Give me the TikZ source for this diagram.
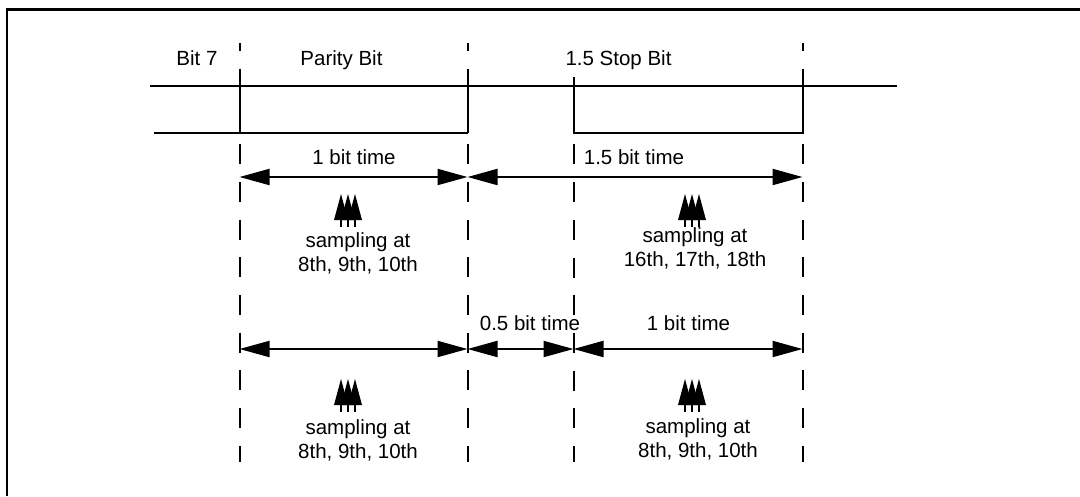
\documentclass[tikz,border=0pt]{standalone}
\usepackage{fontspec}
\setmainfont{Liberation Sans}
\usetikzlibrary{arrows.meta}
\begin{document}
\begin{tikzpicture}[x=1pt,y=-1pt,
  lbl/.style={font=\fontsize{20.5}{24}\selectfont, inner sep=0pt, anchor=base},
  sig/.style={line width=2pt},
  dim/.style={line width=2pt, {Triangle[length=30pt,width=16pt]}-{Triangle[length=30pt,width=16pt]}},
  guide/.style={line width=2pt, dash pattern=on 20pt off 17.7pt, dash phase=12pt},
  sampler/.pic={
    \foreach \d in {-7,0,7} {
      \fill (\d-7,26) -- (\d,0) -- (\d+7,26) -- cycle;
      \draw[line width=1.2pt] (\d,26) -- (\d,33);
    }
  }]
\useasboundingbox (0,0) rectangle (1080,496);
% frame (cropped)
\draw[line width=2.4pt] (6.7,496) |- (1080,9.3);
% guide lines
\coordinate (g1t) at (239.5,43);  \coordinate (g1b) at (239.5,462);
\coordinate (g2t) at (467.5,43);  \coordinate (g2b) at (467.5,462);
\coordinate (g3t) at (573.5,77);  \coordinate (g3b) at (573.5,462);
\coordinate (g4t) at (802.5,43);  \coordinate (g4b) at (802.5,462);
\draw[guide] (g1t) -- (g1b);
\draw[guide] (g2t) -- (g2b);
\draw[guide, dash phase=8pt] (g3t) -- (g3b);
\draw[guide] (g4t) -- (g4b);
% signal
\draw[sig] (150,85.5) -- (897,85.5);
\draw[sig] (154,133) -- (467.5,133);
\draw[sig] (239.5,85.5) -- (239.5,133);
\draw[sig] (467.5,85.5) -- (467.5,133);
\draw[sig] (573.5,85.5) |- (802.5,133) -- (802.5,85.5);
% header labels
\node[lbl] (b7) at (197,65) {Bit 7};
\node[lbl] (pb) at (341.5,65) {Parity Bit};
\node[lbl] (sb) at (618.5,65) {1.5 Stop Bit};
% dimension arrows row 1
\coordinate (r1a) at (239.5,177);
\coordinate (r1b) at (467.5,177);
\coordinate (r1c) at (802.5,177);
\draw[dim] (r1a) -- (r1b);
\draw[dim] (r1b) -- (r1c);
\node[lbl] (t1) at (354,164) {1 bit time};
\node[lbl] (t2) at (634,164) {1.5 bit time};
% dimension arrows row 2
\coordinate (r2a) at (239.5,349);
\coordinate (r2b) at (467.5,349);
\coordinate (r2c) at (573.5,349);
\coordinate (r2d) at (802.5,349);
\draw[dim] (r2a) -- (r2b);
\draw[dim] (r2b) -- (r2c);
\draw[dim] (r2c) -- (r2d);
\node[lbl] (t3) at (530,330) {0.5 bit time};
\node[lbl] (t4) at (688.5,330) {1 bit time};
% sampling markers
\pic at (348,194) {sampler};
\pic at (692,194) {sampler};
\pic at (348,379) {sampler};
\pic at (692,379) {sampler};
\node[lbl, align=center] (s1) at (358,271) {sampling at\\8th, 9th, 10th};
\node[lbl, align=center] (s2) at (695,266) {sampling at\\16th, 17th, 18th};
\node[lbl, align=center] (s3) at (358,458) {sampling at\\8th, 9th, 10th};
\node[lbl, align=center] (s4) at (698,457) {sampling at\\8th, 9th, 10th};
\end{tikzpicture}
\end{document}
